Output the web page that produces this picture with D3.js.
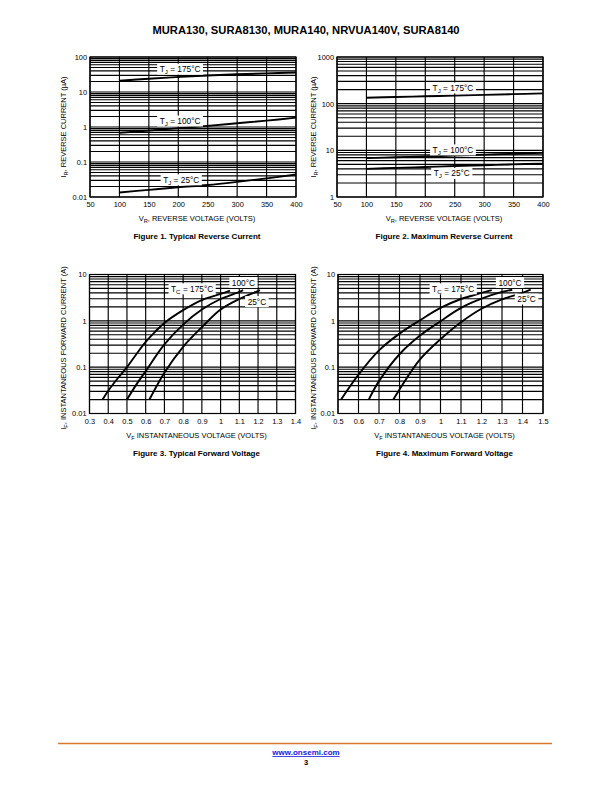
<!DOCTYPE html>
<html><head><meta charset="utf-8">
<script src="https://cdn.jsdelivr.net/npm/d3@7"></script>
<style>
body{margin:0;background:#fff;}
svg text{font-family:"Liberation Sans",Arial,sans-serif;fill:#000;}
</style></head>
<body><svg id="c" width="612" height="792"></svg>
<script>
// ---------- DATA ----------
const titleText = "MURA130, SURA8130, MURA140, NRVUA140V, SURA8140";

const revVolts = [100,150,200,250,300,350,400];
const revXTicks = [50,100,150,200,250,300,350,400];
// Figure 1 typical reverse current (uA)
const fig1Ir175 = [21,24,26.8,29.5,32,34,36];
const fig1Ir100 = [0.68,0.79,0.93,1.08,1.28,1.52,1.85];
const fig1Ir25  = [0.0135,0.016,0.019,0.022,0.027,0.034,0.044];
const fig1YTicks = [0.01,0.1,1,10,100];
const fig1YLabels = ["0.01","0.1","1","10","100"];
// Figure 2 maximum reverse current (uA)
const fig2Ir175 = [134,139,144,149,154,160,166];
const fig2Ir100 = [6.8,7.1,7.4,7.75,8.1,8.45,8.8];
const fig2Ir25  = [4.0,4.2,4.4,4.6,4.8,5.0,5.2];
const fig2YTicks = [1,10,100,1000];
const fig2YLabels = ["1","10","100","1000"];

// Figure 3 typical forward voltage
const fig3XTicks = [0.3,0.4,0.5,0.6,0.7,0.8,0.9,1,1.1,1.2,1.3,1.4];
const fig3Vf175 = [0.37,0.4,0.45,0.5,0.55,0.6,0.65,0.7,0.8,0.9,1.0,1.05];
const fig3If175 = [0.02,0.031,0.057,0.1,0.19,0.35,0.58,0.9,1.7,2.8,3.8,4.5];
const fig3Vf100 = [0.5,0.55,0.6,0.7,0.8,0.9,1.0,1.1,1.12];
const fig3If100 = [0.02,0.042,0.082,0.31,0.83,1.75,2.96,4.2,4.6];
const fig3Vf25  = [0.62,0.7,0.8,0.9,1.0,1.1,1.2,1.21];
const fig3If25  = [0.02,0.076,0.275,0.73,1.75,2.96,4.4,4.6];
// Figure 4 maximum forward voltage
const fig4XTicks = [0.5,0.6,0.7,0.8,0.9,1,1.1,1.2,1.3,1.4,1.5];
const fig4Vf175 = [0.515,0.6,0.7,0.8,0.9,1.0,1.1,1.2,1.25];
const fig4If175 = [0.02,0.069,0.23,0.53,1.03,1.9,2.96,4.0,4.6];
const fig4Vf100 = [0.65,0.7,0.8,0.9,1.0,1.1,1.2,1.3,1.35];
const fig4If100 = [0.02,0.05,0.19,0.48,0.98,1.9,3.0,4.2,4.7];
const fig4Vf25  = [0.77,0.8,0.9,1.0,1.1,1.2,1.3,1.4,1.44];
const fig4If25  = [0.02,0.033,0.147,0.4,0.93,1.82,2.9,4.0,4.7];
const fwdYTicks = [0.01,0.1,1,10];
const fwdYLabels = ["0.01","0.1","1","10"];

// ---------- DRAW ----------
const svg = d3.select("#c");
const FONT = "Liberation Sans, Arial, sans-serif";

svg.append("text").attr("x",306).attr("y",34).attr("text-anchor","middle")
  .attr("font-size",11.2).attr("font-weight","bold").text(titleText);

function subText(g, parts, attrs){
  const t = g.append("text");
  Object.entries(attrs).forEach(([k,v])=>t.attr(k,v));
  parts.forEach(([s,sub])=>{
    const ts = t.append("tspan").text(s);
    if(sub){ ts.attr("font-size","0.75em").attr("baseline-shift","-25%"); }
  });
  return t;
}

function panel(cfg){
  const g = svg.append("g");
  const x = d3.scaleLinear().domain(cfg.xDomain).range(cfg.xRange);
  const y = d3.scaleLog().domain(cfg.yDomain).range([cfg.yRange[1],cfg.yRange[0]]);
  const gv = [];
  for(let d=cfg.yDomain[0]; d<cfg.yDomain[1]*0.999; d*=10){
    for(let m=1;m<=9;m++) gv.push(d*m);
  }
  gv.push(cfg.yDomain[1]);
  g.append("g").selectAll("line").data(gv).join("line")
    .attr("x1",cfg.xRange[0]).attr("x2",cfg.xRange[1])
    .attr("y1",d=>y(d)).attr("y2",d=>y(d))
    .attr("stroke","#000").attr("stroke-width",1.15);
  g.append("g").selectAll("line").data(cfg.xTicks).join("line")
    .attr("x1",d=>x(d)).attr("x2",d=>x(d))
    .attr("y1",cfg.yRange[0]).attr("y2",cfg.yRange[1])
    .attr("stroke","#000").attr("stroke-width",1.15);
  g.append("rect").attr("x",cfg.xRange[0]).attr("y",cfg.yRange[0])
    .attr("width",cfg.xRange[1]-cfg.xRange[0]).attr("height",cfg.yRange[1]-cfg.yRange[0])
    .attr("fill","none").attr("stroke","#000").attr("stroke-width",1.2);
  const xa = g.append("g").attr("transform",`translate(0,${cfg.yRange[1]})`)
    .call(d3.axisBottom(x).tickValues(cfg.xTicks).tickSize(0).tickPadding(5)
      .tickFormat(d=>String(d)));
  const ya = g.append("g").attr("transform",`translate(${cfg.xRange[0]},0)`)
    .call(d3.axisLeft(y).tickValues(cfg.yTicks).tickSize(0).tickPadding(3)
      .tickFormat((d,i)=>cfg.yLabels[i]));
  [xa,ya].forEach(a=>{a.select(".domain").remove();
    a.selectAll("text").attr("font-family",FONT).attr("font-size",7.4).attr("fill","#000");});
  const line = d3.line().x(d=>x(d[0])).y(d=>y(d[1])).curve(d3.curveCatmullRom.alpha(0.5));
  cfg.series.forEach(s=>{
    g.append("path").datum(d3.zip(s.x,s.y)).attr("d",line)
      .attr("fill","none").attr("stroke","#000").attr("stroke-width",1.9);
  });
  cfg.labels.forEach(l=>{
    const lg = g.append("g");
    const bg = lg.append("rect").attr("fill","#fff");
    const t = subText(lg, l.parts, {x:x(l.x), y:y(l.y)+3, "text-anchor":"middle", "font-size":8.3});
    const b = t.node().getBBox();
    bg.attr("x",b.x-2.5).attr("y",y(l.y)-5.5).attr("width",b.width+5).attr("height",11);
  });
  const cx = (cfg.xRange[0]+cfg.xRange[1])/2;
  subText(g, cfg.xTitle, {x:cx+4, y:cfg.yRange[1]+24, "text-anchor":"middle", "font-size":7.5});
  subText(g, cfg.yTitle, {transform:`translate(${cfg.yTitleX},${(cfg.yRange[0]+cfg.yRange[1])/2+cfg.yTitleDy}) rotate(-90)`,
    "text-anchor":"middle", "font-size":7.5});
  g.append("text").attr("x",cx+4).attr("y",cfg.yRange[1]+42).attr("text-anchor","middle")
    .attr("font-size",8).attr("font-weight","bold").text(cfg.caption);
}

const TJ = t=>[["T",0],["J",1],[" = "+t+"°C",0]];
const TC = t=>[["T",0],["C",1],[" = "+t+"°C",0]];

panel({xDomain:[50,400], xRange:[90,296], yDomain:[0.01,100], yRange:[57,197],
  xTicks:revXTicks, yTicks:fig1YTicks, yLabels:fig1YLabels,
  series:[{x:revVolts,y:fig1Ir175},{x:revVolts,y:fig1Ir100},{x:revVolts,y:fig1Ir25}],
  labels:[{x:203,y:45,parts:TJ(175)},{x:203,y:1.48,parts:TJ(100)},{x:205,y:0.031,parts:TJ(25)}],
  xTitle:[["V",0],["R",1],[", REVERSE VOLTAGE (VOLTS)",0]],
  yTitle:[["I",0],["R",1],[", REVERSE CURRENT (µA)",0]], yTitleX:66, yTitleDy:0,
  caption:"Figure 1. Typical Reverse Current"});

panel({xDomain:[50,400], xRange:[337,543], yDomain:[1,1000], yRange:[57,197],
  xTicks:revXTicks, yTicks:fig2YTicks, yLabels:fig2YLabels,
  series:[{x:revVolts,y:fig2Ir175},{x:revVolts,y:fig2Ir100},{x:revVolts,y:fig2Ir25}],
  labels:[{x:247,y:217,parts:TJ(175)},{x:247,y:10.2,parts:TJ(100)},{x:245,y:3.2,parts:TJ(25)}],
  xTitle:[["V",0],["R",1],[", REVERSE VOLTAGE (VOLTS)",0]],
  yTitle:[["I",0],["R",1],[", REVERSE CURRENT (µA)",0]], yTitleX:316, yTitleDy:0,
  caption:"Figure 2. Maximum Reverse Current"});

panel({xDomain:[0.3,1.4], xRange:[89.5,295.5], yDomain:[0.01,10], yRange:[274.5,413.5],
  xTicks:fig3XTicks, yTicks:fwdYTicks, yLabels:fwdYLabels,
  series:[{x:fig3Vf175,y:fig3If175},{x:fig3Vf100,y:fig3If100},{x:fig3Vf25,y:fig3If25}],
  labels:[{x:0.848,y:4.9,parts:TC(175)},{x:1.122,y:6.7,parts:[["100°C",0]]},{x:1.194,y:2.6,parts:[["25°C",0]]}],
  xTitle:[["V",0],["F",1],[" INSTANTANEOUS VOLTAGE (VOLTS)",0]],
  yTitle:[["I",0],["F",1],[", INSTANTANEOUS FORWARD CURRENT (A)",0]], yTitleX:66, yTitleDy:4,
  caption:"Figure 3. Typical Forward Voltage"});

panel({xDomain:[0.5,1.5], xRange:[338,543], yDomain:[0.01,10], yRange:[274.5,413.5],
  xTicks:fig4XTicks, yTicks:fwdYTicks, yLabels:fwdYLabels,
  series:[{x:fig4Vf175,y:fig4If175},{x:fig4Vf100,y:fig4If100},{x:fig4Vf25,y:fig4If25}],
  labels:[{x:1.062,y:4.9,parts:TC(175)},{x:1.339,y:6.7,parts:[["100°C",0]]},{x:1.42,y:2.95,parts:[["25°C",0]]}],
  xTitle:[["V",0],["F",1],[" INSTANTANEOUS VOLTAGE (VOLTS)",0]],
  yTitle:[["I",0],["F",1],[", INSTANTANEOUS FORWARD CURRENT (A)",0]], yTitleX:316, yTitleDy:4,
  caption:"Figure 4. Maximum Forward Voltage"});

svg.append("line").attr("x1",58).attr("x2",552).attr("y1",743.5).attr("y2",743.5)
  .attr("stroke","#d9772e").attr("stroke-width",1.5);
svg.append("text").attr("x",306).attr("y",755).attr("text-anchor","middle")
  .attr("font-size",8).attr("font-weight","bold").attr("text-decoration","underline")
  .style("fill","#1a1adb").text("www.onsemi.com");
svg.append("text").attr("x",306).attr("y",765).attr("text-anchor","middle")
  .attr("font-size",7.5).attr("font-weight","bold").text("3");
</script></body></html>
